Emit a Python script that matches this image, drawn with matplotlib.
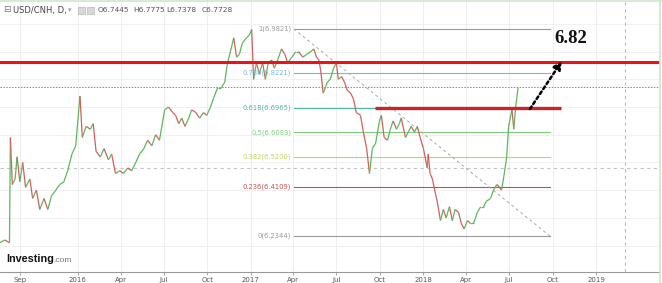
import matplotlib
matplotlib.use('Agg')
import matplotlib.pyplot as plt
import matplotlib.dates as mdates
from matplotlib.collections import LineCollection
from matplotlib.lines import Line2D
from matplotlib.patches import Rectangle
import numpy as np
import pandas as pd

# USD/CNH daily closes (roughly one point per week)
dates = [
    '2015-07-21', '2015-07-31', '2015-08-10', '2015-08-12', '2015-08-16', '2015-08-22', '2015-08-26',
    '2015-09-01', '2015-09-07', '2015-09-13', '2015-09-22', '2015-09-28', '2015-10-06', '2015-10-13',
    '2015-10-22', '2015-10-30', '2015-11-07', '2015-11-16', '2015-11-24', '2015-12-03', '2015-12-11',
    '2015-12-20', '2015-12-28', '2016-01-06', '2016-01-11', '2016-01-19', '2016-01-28', '2016-02-03',
    '2016-02-09', '2016-02-18', '2016-02-26', '2016-03-06', '2016-03-13', '2016-03-21', '2016-03-30',
    '2016-04-07', '2016-04-16', '2016-04-24', '2016-05-03', '2016-05-11', '2016-05-20', '2016-05-28',
    '2016-06-06', '2016-06-14', '2016-06-22', '2016-06-29', '2016-07-03', '2016-07-11', '2016-07-20',
    '2016-07-26', '2016-08-02', '2016-08-08', '2016-08-15', '2016-08-23', '2016-08-29', '2016-09-07',
    '2016-09-15', '2016-09-23', '2016-09-30', '2016-10-08', '2016-10-14', '2016-10-23', '2016-10-31',
    '2016-11-07', '2016-11-13', '2016-11-19', '2016-11-26', '2016-12-02', '2016-12-08', '2016-12-14',
    '2016-12-23', '2016-12-29', '2017-01-03', '2017-01-07', '2017-01-13', '2017-01-19', '2017-01-26',
    '2017-02-01', '2017-02-07', '2017-02-14', '2017-02-20', '2017-02-27', '2017-03-07', '2017-03-14',
    '2017-03-20', '2017-03-29', '2017-04-06', '2017-04-12', '2017-04-21', '2017-04-29', '2017-05-08',
    '2017-05-14', '2017-05-20', '2017-05-25', '2017-05-29', '2017-06-03', '2017-06-12', '2017-06-18',
    '2017-06-25', '2017-07-01', '2017-07-05', '2017-07-12', '2017-07-18', '2017-07-24', '2017-07-31',
    '2017-08-06', '2017-08-12', '2017-08-21', '2017-08-27', '2017-09-03', '2017-09-09', '2017-09-15',
    '2017-09-22', '2017-09-30', '2017-10-04', '2017-10-10', '2017-10-17', '2017-10-23', '2017-10-29',
    '2017-11-05', '2017-11-11', '2017-11-15', '2017-11-24', '2017-11-30', '2017-12-06', '2017-12-13',
    '2017-12-19', '2017-12-25', '2018-01-01', '2018-01-09', '2018-01-11', '2018-01-15', '2018-01-20',
    '2018-01-26', '2018-01-30', '2018-02-06', '2018-02-12', '2018-02-18', '2018-02-25', '2018-03-03',
    '2018-03-09', '2018-03-16', '2018-03-22', '2018-03-28', '2018-04-04', '2018-04-10', '2018-04-17',
    '2018-04-25', '2018-05-02', '2018-05-08', '2018-05-14', '2018-05-23', '2018-05-29', '2018-06-05',
    '2018-06-11', '2018-06-15', '2018-06-20', '2018-06-26', '2018-06-30', '2018-07-07', '2018-07-11',
    '2018-07-15', '2018-07-20',
]
closes = [
    6.21, 6.22, 6.21, 6.59, 6.42, 6.44, 6.52,
    6.43, 6.50, 6.41, 6.44, 6.37, 6.40, 6.33,
    6.37, 6.33, 6.38, 6.40, 6.42, 6.43, 6.47,
    6.53, 6.56, 6.74, 6.59, 6.63, 6.62, 6.64,
    6.54, 6.52, 6.55, 6.51, 6.53, 6.46, 6.47,
    6.46, 6.48, 6.47, 6.50, 6.53, 6.55, 6.58,
    6.56, 6.60, 6.58, 6.65, 6.69, 6.70, 6.68,
    6.67, 6.64, 6.66, 6.63, 6.66, 6.69, 6.68,
    6.66, 6.68, 6.67, 6.70, 6.73, 6.77, 6.77,
    6.79, 6.86, 6.90, 6.95, 6.88, 6.89, 6.93,
    6.95, 6.96, 6.98, 6.80, 6.86, 6.82, 6.86,
    6.80, 6.86, 6.87, 6.84, 6.87, 6.91, 6.89,
    6.86, 6.88, 6.90, 6.90, 6.88, 6.89, 6.90,
    6.91, 6.88, 6.87, 6.83, 6.75, 6.79, 6.80,
    6.84, 6.86, 6.80, 6.81, 6.79, 6.76, 6.75,
    6.73, 6.68, 6.67, 6.61, 6.55, 6.46, 6.55,
    6.57, 6.65, 6.67, 6.59, 6.58, 6.62, 6.65,
    6.62, 6.64, 6.66, 6.59, 6.61, 6.63, 6.61,
    6.63, 6.59, 6.55, 6.48, 6.53, 6.46, 6.44,
    6.39, 6.36, 6.29, 6.33, 6.30, 6.34, 6.29,
    6.33, 6.32, 6.28, 6.26, 6.29, 6.28, 6.28,
    6.32, 6.34, 6.34, 6.36, 6.37, 6.40, 6.42,
    6.41, 6.40, 6.45, 6.52, 6.63, 6.69, 6.62,
    6.70, 6.77,
]

# Fibonacci retracement
fib_ratios = ['1', '0.786', '0.618', '0.5', '0.382', '0.236', '0']
fib_prices = [6.9821, 6.8221, 6.6965, 6.6083, 6.5200, 6.4109, 6.2344]
fib_colors = ['#9a9a9a', '#74b9d6', '#4fb8a6', '#7fcf7f', '#c2d45c', '#c25050', '#9a9a9a']
fib_start, fib_end = '2017-04-02', '2018-09-25'

resistance = 6.862
support_start, support_end = '2017-09-20', '2018-10-19'
last_close = 6.7728
grey_level = 6.48
target_text = '6.82'
arrow_from = ('2018-08-14', 6.693)
arrow_to = ('2018-10-20', 6.864)

tick_dates = ['2015-09-01', '2016-01-01', '2016-04-01', '2016-07-01', '2016-10-01',
              '2017-01-01', '2017-04-01', '2017-07-01', '2017-10-01', '2018-01-01',
              '2018-04-01', '2018-07-01', '2018-10-01', '2019-01-01']
tick_labels = ['Sep', '2016', 'Apr', 'Jul', 'Oct', '2017', 'Apr', 'Jul', 'Oct',
               '2018', 'Apr', 'Jul', 'Oct', '2019']


def d(s):
    return mdates.date2num(pd.Timestamp(s))


fig = plt.figure(figsize=(6.62, 2.83), dpi=100)
ax = fig.add_axes([0, 11 / 283, 660 / 662, 272 / 283])
ax.set_xlim(d('2015-07-21'), d('2019-05-16'))
ax.set_ylim(6.1044, 7.0864)

# grid
for p in np.arange(6.2, 7.05, 0.1):
    ax.axhline(p, color='#f0f0f0', lw=0.7, zorder=0)
for t in tick_dates:
    ax.axvline(d(t), color='#eeeeee', lw=0.7, zorder=0)

# price path, coloured by direction
x = np.array([d(s) for s in dates])
y = np.array(closes)
segs = [[(x[i], y[i]), (x[i + 1], y[i + 1])] for i in range(len(x) - 1)]
cols = ['#5cb85c' if y[i + 1] >= y[i] else '#d2605a' for i in range(len(x) - 1)]
ax.add_collection(LineCollection(segs, colors=cols, linewidths=0.9, zorder=3))

# fib levels
for r, p, c in zip(fib_ratios, fib_prices, fib_colors):
    ax.plot([d(fib_start), d(fib_end)], [p, p], color=c, lw=0.8, zorder=2)
    ax.annotate('%s(%.4f)' % (r, p), (d(fib_start), p), xytext=(-2, 0),
                textcoords='offset points', ha='right', va='center',
                fontsize=4.9, color=c, zorder=4)
ax.plot([d(fib_start), d(fib_end)], [fib_prices[0], fib_prices[-1]],
        color='#aaaaaa', lw=0.7, ls=(0, (3, 3)), zorder=2)

# horizontal / vertical markers
ax.axhline(grey_level, color='#c4c4c4', lw=0.8, ls=(0, (3, 3)), zorder=1)
ax.axhline(last_close, color='#4caf50', lw=0.7, ls=(0, (1.5, 1.5)), zorder=1)
ax.axvline(d('2019-03-03'), color='#bbbbbb', lw=0.8, ls=(0, (3, 3)), zorder=1)
ax.axhline(resistance, color='#e8141c', lw=2.2, zorder=5)
ax.plot([d(support_start), d(support_end)], [fib_prices[2], fib_prices[2]],
        color='#c9242a', lw=2.4, zorder=5, solid_capstyle='butt')

# dotted arrow toward the target
ax.annotate('', xy=(d(arrow_to[0]), arrow_to[1]), xytext=(d(arrow_from[0]), arrow_from[1]),
            arrowprops=dict(arrowstyle='-|>,head_length=0.45,head_width=0.25', color='black',
                            lw=1.8, ls=(0, (1.2, 1.2)), shrinkA=0, shrinkB=0), zorder=6)
ax.text(d('2018-10-04'), 6.949, target_text, fontsize=13.5, fontweight='bold',
        family='Liberation Serif', ha='left', va='center', color='#111111', zorder=6)

# axis styling
for s in ['top', 'left', 'right']:
    ax.spines[s].set_visible(False)
ax.spines['bottom'].set_color('#999999')
ax.spines['bottom'].set_linewidth(0.8)
ax.set_yticks([])
ax.set_xticks([d(t) for t in tick_dates])
ax.set_xticklabels(tick_labels)
ax.tick_params(axis='x', length=2, width=0.6, color='#999999', labelsize=5,
               labelcolor='#555555', pad=1.5)

# header
fig.text(3 / 662, 1 - 10 / 283, '\u229f', fontsize=6.5, color='#777777', va='center')
fig.text(13 / 662, 1 - 10 / 283, 'USD/CNH, D,', fontsize=6, color='#444444', va='center')
fig.text(68 / 662, 1 - 10 / 283, '\u25be', fontsize=5, color='#999999', va='center')
fig.add_artist(Rectangle((78 / 662, 1 - 14 / 283), 7 / 662, 7 / 283, transform=fig.transFigure,
                         facecolor='#d8d8d8', edgecolor='#aaaaaa', lw=0.4))
fig.add_artist(Rectangle((87 / 662, 1 - 14 / 283), 7 / 662, 7 / 283, transform=fig.transFigure,
                         facecolor='#d8d8d8', edgecolor='#aaaaaa', lw=0.4))
for xp, s in zip([98, 133, 166, 202], ['O6.7445', 'H6.7775', 'L6.7378', 'C6.7728']):
    fig.text(xp / 662, 1 - 10 / 283, s, fontsize=5.4, color='#555555', va='center')

# logo
fig.text(6 / 662, 1 - 259 / 283, 'Investing', fontsize=7.8, fontweight='bold',
         family='Liberation Sans', color='#111111', va='center')
fig.text(53 / 662, 1 - 260 / 283, '.com', fontsize=6, family='Liberation Sans',
         color='#777777', va='center')

# light frame
fig.add_artist(Line2D([0, 1], [0.998, 0.998], transform=fig.transFigure, color='#cfe6c9', lw=1.2))
fig.add_artist(Line2D([660 / 662, 660 / 662], [0, 1], transform=fig.transFigure, color='#cfe6c9', lw=1.2))

fig.savefig('out.png', dpi=100)
